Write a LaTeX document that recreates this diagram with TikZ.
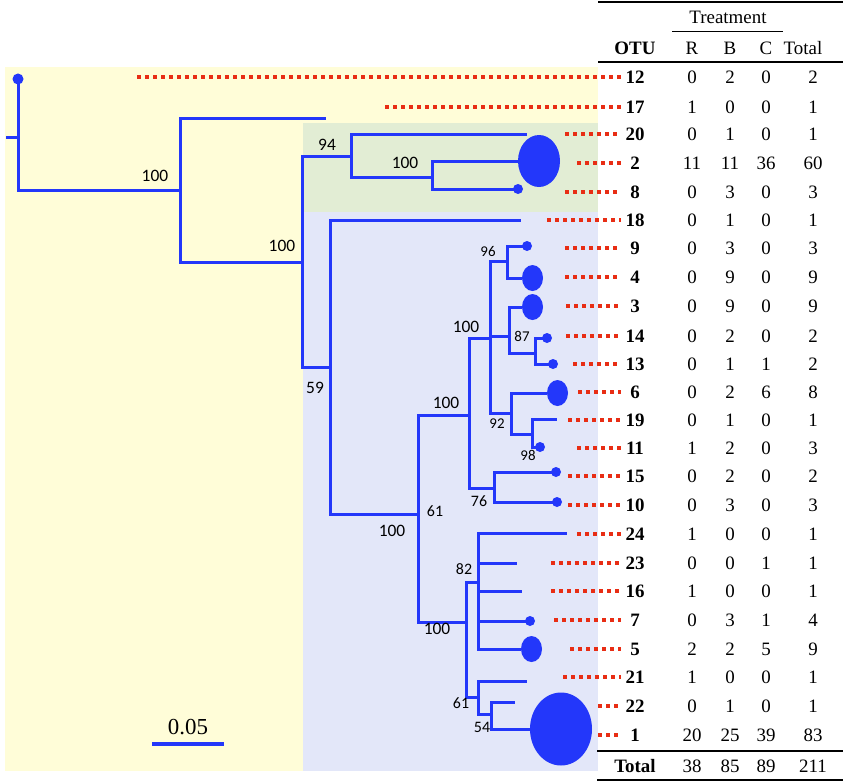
\documentclass[tikz,border=0pt]{standalone}
\usepackage{fontspec}
\setmainfont{Liberation Serif}
\newfontfamily\labfont{Carlito}
\definecolor{treeblue}{RGB}{35,55,250}
\definecolor{dotred}{RGB}{232,45,20}
\definecolor{bgyellow}{RGB}{255,253,216}
\definecolor{bggreen}{RGB}{226,237,212}
\definecolor{bglav}{RGB}{227,231,249}
\begin{document}
\begin{tikzpicture}[x=1bp,y=-1bp,
  br/.style={draw=treeblue,line width=3bp},
  tipfill/.style={fill=treeblue},
  leafdots/.style={draw=dotred,line width=3.5bp,dash pattern=on 3.5bp off 4.5bp},
  boot/.style={font=\labfont\fontsize{17.5}{17.5}\selectfont,inner sep=0},
  bootm/.style={font=\labfont\fontsize{16}{16}\selectfont,inner sep=0},
  boots/.style={font=\labfont\fontsize{15}{15}\selectfont,inner sep=0},
  cell/.style={font=\fontsize{19}{19}\selectfont,inner sep=0},
  otu/.style={font=\bfseries\fontsize{19}{19}\selectfont,inner sep=0},
  rulethin/.style={draw=black,line width=1.2bp},
  rulethick/.style={draw=black,line width=2.2bp}]
\useasboundingbox (0,0) rectangle (843,783);
\fill[white] (0,0) rectangle (843,783);
% backgrounds
\fill[bgyellow] (5,67) rectangle (598,771);
\fill[bggreen] (303,123) rectangle (598,212);
\fill[bglav] (303,212) rectangle (598,771);

% ---------- tree coordinates ----------
\coordinate (root) at (6,137);
\coordinate (n0) at (18,137);
\coordinate (t12) at (18,79);
\coordinate (n1) at (180,190);
\coordinate (t17) at (326,118);
\coordinate (n2) at (302,262);
\coordinate (n3) at (351,156);
\coordinate (t20) at (527,134);
\coordinate (n4) at (432,177);
\coordinate (t2) at (518,161);
\coordinate (t8) at (518,189);
\coordinate (n5) at (330,367);
\coordinate (t18) at (521,220);
\coordinate (n6) at (418,514);
\coordinate (n7) at (469,415);
\coordinate (n8) at (490,338);
\coordinate (n9) at (507,261);
\coordinate (t9) at (527,246);
\coordinate (t4) at (522,278);
\coordinate (n10) at (509,336);
\coordinate (t3) at (522,307);
\coordinate (n11) at (535,353);
\coordinate (t14) at (547,338);
\coordinate (t13) at (553,364);
\coordinate (n12) at (511,413);
\coordinate (t6) at (547,393);
\coordinate (n13) at (532,434);
\coordinate (t19) at (557,419);
\coordinate (t11) at (540,447);
\coordinate (n14) at (494,488);
\coordinate (t15) at (556,472);
\coordinate (t10) at (557,502);
\coordinate (n15) at (466,622);
\coordinate (n16) at (478,582);
\coordinate (t24) at (567,533);
\coordinate (t23) at (517,563);
\coordinate (t16) at (522,591);
\coordinate (t7) at (530,621);
\coordinate (t5) at (521,649);
\coordinate (n17) at (478,697);
\coordinate (t21) at (527,681);
\coordinate (n18) at (491,714);
\coordinate (t22) at (515,702);
\coordinate (t1) at (530,729);

% ---------- branches ----------
\draw[br] (root) -- (n0);
\draw[br] (n0) |- (t12);
\draw[br] (n0) |- (n1);
\draw[br] (n1) |- (t17);
\draw[br] (n1) |- (n2);
\draw[br] (n2) |- (n3);
\draw[br] (n3) |- (t20);
\draw[br] (n3) |- (n4);
\draw[br] (n4) |- (t2);
\draw[br] (n4) |- (t8);
\draw[br] (n2) |- (n5);
\draw[br] (n5) |- (t18);
\draw[br] (n5) |- (n6);
\draw[br] (n6) |- (n7);
\draw[br] (n7) |- (n8);
\draw[br] (n8) |- (n9);
\draw[br] (n9) |- (t9);
\draw[br] (n9) |- (t4);
\draw[br] (n8) |- (n10);
\draw[br] (n10) |- (t3);
\draw[br] (n10) |- (n11);
\draw[br] (n11) |- (t14);
\draw[br] (n11) |- (t13);
\draw[br] (n8) |- (n12);
\draw[br] (n12) |- (t6);
\draw[br] (n12) |- (n13);
\draw[br] (n13) |- (t19);
\draw[br] (n13) |- (t11);
\draw[br] (n7) |- (n14);
\draw[br] (n14) |- (t15);
\draw[br] (n14) |- (t10);
\draw[br] (n6) |- (n15);
\draw[br] (n15) |- (n16);
\draw[br] (n16) |- (t24);
\draw[br] (n16) |- (t23);
\draw[br] (n16) |- (t16);
\draw[br] (n16) |- (t7);
\draw[br] (n16) |- (t5);
\draw[br] (n15) |- (n17);
\draw[br] (n17) |- (t21);
\draw[br] (n17) |- (n18);
\draw[br] (n18) |- (t22);
\draw[br] (n18) |- (t1);

% ---------- tip markers ----------
\fill[tipfill] (t12) circle [radius=5.5bp];
\fill[tipfill] (t8) circle [radius=5bp];
\fill[tipfill] (t9) circle [radius=5bp];
\fill[tipfill] (t14) circle [radius=5bp];
\fill[tipfill] (t13) circle [radius=5bp];
\fill[tipfill] (t11) circle [radius=5bp];
\fill[tipfill] (t15) circle [radius=5bp];
\fill[tipfill] (t10) circle [radius=5bp];
\fill[tipfill] (t7) circle [radius=5bp];
\fill[tipfill] ([xshift=21bp]t2) ellipse [x radius=21bp, y radius=26bp];
\fill[tipfill] ([xshift=10.5bp]t4) ellipse [x radius=10.5bp, y radius=13bp];
\fill[tipfill] ([xshift=10.5bp]t3) ellipse [x radius=10.5bp, y radius=13bp];
\fill[tipfill] ([xshift=10.5bp]t6) ellipse [x radius=10.5bp, y radius=13bp];
\fill[tipfill] ([xshift=10.5bp]t5) ellipse [x radius=10.5bp, y radius=13bp];
\fill[tipfill] ([xshift=31bp]t1) ellipse [x radius=31bp, y radius=36.5bp];

% ---------- bootstrap labels ----------
\node[boot] (b1) at (155,176) {100};
\node[boot] (b2) at (282,246) {100};
\node[boot] (b3) at (327,145) {94};
\node[boot] (b4) at (405,163) {100};
\node[boot] (b5) at (315,388) {59};
\node[boots] (b6) at (488,252) {96};
\node[boot] (b7) at (466,327) {100};
\node[boots] (b8) at (522,336) {87};
\node[boots] (b9) at (497,424) {92};
\node[boots] (b10) at (528,455) {98};
\node[boot] (b11) at (446,403) {100};
\node[bootm] (b12) at (435,511) {61};
\node[boot] (b13) at (392,531) {100};
\node[bootm] (b14) at (479,501) {76};
\node[bootm] (b15) at (464,569) {82};
\node[boot] (b16) at (437,629) {100};
\node[bootm] (b17) at (461,703) {61};
\node[bootm] (b18) at (482,727) {54};

% ---------- scale bar ----------
\coordinate (sbl) at (152,744);
\coordinate (sbr) at (224,744);
\draw[draw=treeblue,line width=3.5bp] (sbl) -- (sbr);
\node[font=\fontsize{23}{23}\selectfont,inner sep=0] (sblab) at (188,727) {0.05};

% ---------- table ----------
\coordinate (dend) at (621,0);
\draw[rulethin] (598,2) -- (843,2);
\node[cell] (thead) at (728,17) {Treatment};
\draw[draw=black,line width=1bp] (672,32) -- (783,32);
\node[otu] (hotu) at (635,48) {OTU};
\node[cell] (hr) at (692,48) {R};
\node[cell] (hb) at (730,48) {B};
\node[cell] (hc) at (766,48) {C};
\node[cell] (ht) at (803,48) {Total};
\draw[rulethin] (598,62) -- (843,62);

\foreach \o/\y/\r/\b/\c/\t/\sx in {
 12/77/0/2/0/2/137, 17/107/1/0/0/1/385, 20/134/0/1/0/1/565, 2/163/11/11/36/60/577,
 8/192/0/3/0/3/565, 18/220/0/1/0/1/547, 9/248/0/3/0/3/565, 4/277/0/9/0/9/565,
 3/306/0/9/0/9/566, 14/336/0/2/0/2/566, 13/364/0/1/1/2/573, 6/392/0/2/6/8/578,
 19/420/0/1/0/1/568, 11/448/1/2/0/3/577, 15/476/0/2/0/2/568, 10/505/0/3/0/3/568,
 24/534/1/0/0/1/577, 23/563/0/0/1/1/551, 16/591/1/0/0/1/551, 7/620/0/3/1/4/554,
 5/649/2/2/5/9/570, 21/677/1/0/0/1/563, 22/706/0/1/0/1/598, 1/735/20/25/39/83/598}{
  \coordinate (d\o) at (\sx,\y);
  \draw[leafdots] (d\o) -- (d\o -| dend);
  \node[otu] (o\o) at (635,\y) {\o};
  \node[cell] (r\o) at (692,\y) {\r};
  \node[cell] (bb\o) at (730,\y) {\b};
  \node[cell] (c\o) at (766,\y) {\c};
  \node[cell] (tt\o) at (813,\y) {\t};
}
\draw[rulethin] (597,751) -- (843,751);
\node[otu] (ftot) at (635,766) {Total};
\node[cell] (fr) at (692,766) {38};
\node[cell] (fb) at (730,766) {85};
\node[cell] (fc) at (766,766) {89};
\node[cell] (ft) at (813,766) {211};
\draw[rulethick] (597,780) -- (843,780);
\end{tikzpicture}
\end{document}
